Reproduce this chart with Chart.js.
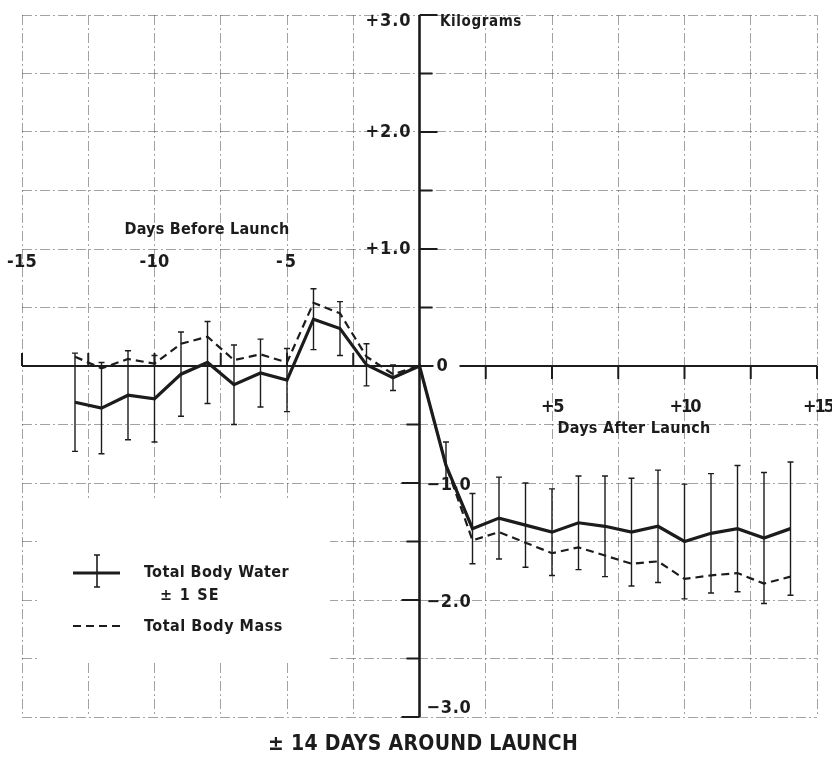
<!DOCTYPE html>
<html>
<head>
<meta charset="utf-8">
<script src="https://cdn.jsdelivr.net/npm/chart.js@4.4.1/dist/chart.umd.min.js"></script>
<style>
  html, body { margin: 0; padding: 0; background: #fff; }
  #wrap { width: 832px; height: 760px; }
</style>
</head>
<body>
<div id="wrap"><canvas id="c" width="832" height="760"></canvas></div>
<script>
// Days relative to launch
const days = [-13, -12, -11, -10, -9, -8, -7, -6, -5, -4, -3, -2, -1, 0,
              1, 2, 3, 4, 5, 6, 7, 8, 9, 10, 11, 12, 13, 14];
// Change in total body water (kg)
const bodyWater = [-0.31, -0.36, -0.25, -0.28, -0.07, 0.03, -0.16, -0.06, -0.12, 0.40, 0.32, 0.01, -0.10, 0,
                   -0.85, -1.39, -1.30, -1.36, -1.42, -1.34, -1.37, -1.42, -1.37, -1.50, -1.43, -1.39, -1.47, -1.39];
// Standard error of body water change (kg)
const bodyWaterSE = [0.42, 0.39, 0.38, 0.37, 0.36, 0.35, 0.34, 0.29, 0.27, 0.26, 0.23, 0.18, 0.11, 0,
                     0.20, 0.30, 0.35, 0.36, 0.37, 0.40, 0.43, 0.46, 0.48, 0.49, 0.51, 0.54, 0.56, 0.57];
// Change in total body mass (kg)
const bodyMass = [0.08, -0.02, 0.06, 0.02, 0.19, 0.25, 0.05, 0.10, 0.03, 0.54, 0.45, 0.08, -0.07, 0,
                  -0.85, -1.49, -1.42, -1.51, -1.60, -1.55, -1.62, -1.69, -1.67, -1.82, -1.79, -1.77, -1.86, -1.80];

const xBeforeTicks = [-15, -10, -5];
const xAfterTicks = [5, 10, 15];
const yUpperTicks = [1, 2, 3];
const yLowerTicks = [-1, -2, -3];

const INK = '#1c1c1c';
const CFONT = '"DejaVu Sans Condensed", "DejaVu Sans", sans-serif';

// Draw text fitted to a target width via letter spacing
function fitText(ctx, text, cx, cy, width, size, align) {
  ctx.save();
  ctx.font = 'bold ' + size + 'px ' + CFONT;
  ctx.letterSpacing = '0px';
  const natural = ctx.measureText(text).width;
  const n = text.length;
  const sp = (width - natural) / n;
  ctx.letterSpacing = sp.toFixed(2) + 'px';
  ctx.fillStyle = INK;
  ctx.textBaseline = 'middle';
  ctx.textAlign = 'left';
  let x;
  if (align === 'left') x = cx;
  else if (align === 'right') x = cx - width;
  else x = cx - width / 2;
  ctx.fillText(text, x, cy);
  ctx.restore();
}

const backdrop = {
  id: 'backdrop',
  beforeDatasetsDraw(chart) {
    const { ctx } = chart;
    // clear the grid behind the key
    ctx.save();
    ctx.fillStyle = '#fff';
    ctx.fillRect(40, 500, 290, 160);
    ctx.restore();
  }
};

const frame = {
  id: 'frame',
  afterDatasetsDraw(chart) {
    const { ctx } = chart;
    const xs = chart.scales.x, ys = chart.scales.y;
    const X = v => xs.getPixelForValue(v);
    const Y = v => ys.getPixelForValue(v);
    const x0 = X(0), y0 = Y(0);

    // error bars on body water
    ctx.save();
    ctx.strokeStyle = INK;
    ctx.lineWidth = 1.4;
    days.forEach((d, i) => {
      const se = bodyWaterSE[i];
      if (!se) return;
      const px = X(d);
      const top = Y(bodyWater[i] + se), bot = Y(bodyWater[i] - se);
      ctx.beginPath();
      ctx.moveTo(px, top); ctx.lineTo(px, bot);
      ctx.moveTo(px - 3, top); ctx.lineTo(px + 3, top);
      ctx.moveTo(px - 3, bot); ctx.lineTo(px + 3, bot);
      ctx.stroke();
    });
    ctx.restore();

    // axes through the origin
    ctx.save();
    ctx.strokeStyle = INK;
    ctx.lineCap = 'butt';
    ctx.lineWidth = 2.2;
    ctx.beginPath();
    ctx.moveTo(X(-15), y0); ctx.lineTo(X(15), y0);
    ctx.stroke();
    ctx.lineWidth = 2.6;
    ctx.beginPath();
    ctx.moveTo(x0, Y(3)); ctx.lineTo(x0, Y(-3));
    ctx.stroke();

    // x ticks: up before launch, down after launch
    ctx.lineWidth = 2;
    ctx.beginPath();
    for (let d = -15; d <= -2.5; d += 2.5) { ctx.moveTo(X(d), y0); ctx.lineTo(X(d), y0 - 13); }
    for (let d = 2.5; d <= 15; d += 2.5) { ctx.moveTo(X(d), y0); ctx.lineTo(X(d), y0 + 13); }
    // y ticks: right above zero, left below zero
    for (let v = 0.5; v <= 3; v += 0.5) {
      const len = Number.isInteger(v) ? 18 : 13;
      ctx.moveTo(x0, Y(v)); ctx.lineTo(x0 + len, Y(v));
    }
    for (let v = -0.5; v >= -3; v -= 0.5) {
      const len = Number.isInteger(v) ? 18 : 13;
      ctx.moveTo(x0, Y(v)); ctx.lineTo(x0 - len, Y(v));
    }
    ctx.stroke();
    ctx.restore();

    // zero label sits in a gap of the axis
    ctx.save();
    ctx.fillStyle = '#fff';
    ctx.fillRect(x0 + 14, y0 - 4, 26, 8);
    ctx.restore();
    fitText(ctx, '0', x0 + 17, y0, 12, 18, 'left');

    // tick labels
    xBeforeTicks.forEach(d => fitText(ctx, String(d), X(d), y0 - 104, d === -5 ? 22 : 30, 18, 'center'));
    xAfterTicks.forEach(d => fitText(ctx, '+' + d, X(d) + (d === 15 ? 1 : 0), y0 + 41, d === 5 ? 22 : 30, 18, 'center'));
    yUpperTicks.forEach(v => fitText(ctx, '+' + v.toFixed(1), x0 - 8, Y(v) + (v === 3 ? 6 : 0), 46, 18, 'right'));
    yLowerTicks.forEach(v => fitText(ctx, '\u2212' + Math.abs(v).toFixed(1), x0 + 7, Y(v) + (v === -3 ? -9 : 2), 45, 18, 'left'));

    // axis captions
    fitText(ctx, 'Days Before Launch', 207, 230, 165, 16, 'center');
    fitText(ctx, 'Days After Launch', 634, 429, 153, 16, 'center');
    fitText(ctx, 'Kilograms', 440, 22, 82, 15, 'left');
    fitText(ctx, '\u00B1 14 DAYS AROUND LAUNCH', 423, 745, 310, 21, 'center');

    // key
    ctx.save();
    ctx.strokeStyle = INK;
    ctx.lineWidth = 3;
    ctx.beginPath(); ctx.moveTo(73, 573); ctx.lineTo(120, 573); ctx.stroke();
    ctx.lineWidth = 1.6;
    ctx.beginPath();
    ctx.moveTo(97, 555); ctx.lineTo(97, 587);
    ctx.moveTo(94, 555); ctx.lineTo(100, 555);
    ctx.moveTo(94, 587); ctx.lineTo(100, 587);
    ctx.stroke();
    ctx.lineWidth = 2.2;
    ctx.setLineDash([8, 5]);
    ctx.beginPath(); ctx.moveTo(73, 626); ctx.lineTo(122, 626); ctx.stroke();
    ctx.restore();
    fitText(ctx, 'Total Body Water', 144, 573, 145, 16, 'left');
    fitText(ctx, '\u00B1 1 SE', 160, 596, 60, 16, 'left');
    fitText(ctx, 'Total Body Mass', 144, 627, 139, 16, 'left');
  }
};

const pts = arr => days.map((d, i) => ({ x: d, y: arr[i] }));

new Chart(document.getElementById('c'), {
  type: 'scatter',
  data: {
    datasets: [
      {
        label: 'Total Body Water',
        data: pts(bodyWater),
        showLine: true,
        borderColor: INK,
        borderWidth: 3.2,
        pointRadius: 0,
        tension: 0
      },
      {
        label: 'Total Body Mass',
        data: pts(bodyMass),
        showLine: true,
        borderColor: INK,
        borderWidth: 2.2,
        borderDash: [8, 5],
        pointRadius: 0,
        tension: 0
      }
    ]
  },
  options: {
    responsive: false,
    animation: false,
    devicePixelRatio: 1,
    layout: { padding: { left: 22, right: 15, top: 15, bottom: 43 } },
    plugins: { legend: { display: false }, tooltip: { enabled: false } },
    scales: {
      x: {
        type: 'linear', min: -15, max: 15,
        ticks: { display: false, stepSize: 2.5 },
        grid: { color: 'rgba(70,70,70,0.5)', lineWidth: 1, drawTicks: false },
        border: { display: false, dash: [10, 3, 2, 3] }
      },
      y: {
        type: 'linear', min: -3, max: 3,
        ticks: { display: false, stepSize: 0.5 },
        grid: { color: 'rgba(70,70,70,0.5)', lineWidth: 1, drawTicks: false },
        border: { display: false, dash: [10, 3, 2, 3] }
      }
    }
  },
  plugins: [backdrop, frame]
});
</script>
</body>
</html>
